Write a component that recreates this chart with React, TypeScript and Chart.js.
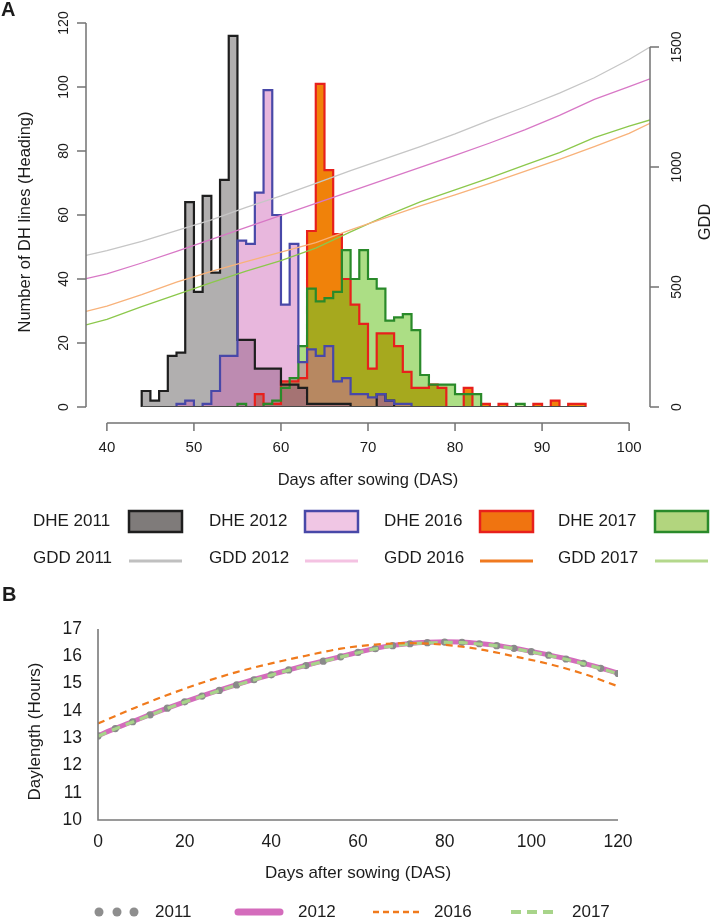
import React, { useEffect, useRef } from "react";
import { Chart, registerables } from "chart.js";

Chart.register(...registerables);

const FONT = '"Liberation Sans", Arial, Helvetica, sans-serif';

// ---------------- Panel A data ----------------
const A_X_TICKS = [40, 50, 60, 70, 80, 90, 100];
const A_Y_TICKS = [0, 20, 40, 60, 80, 100, 120];
const A_GDD_TICKS = [0, 500, 1000, 1500];
const A_X_MIN = 37.6;
const A_X_MAX = 102.4;
const A_Y_MAX = 120;
const A_GDD_MAX = 1600;

// heading-date histograms: first day of first bin + counts per 1-day bin
const DHE_2011_START = 44;
const DHE_2011 = [5, 2, 5, 16, 17, 64, 36, 66, 42, 71, 116, 21, 21, 12, 12, 12, 7, 7, 6, 1, 1, 1, 1, 1, 0, 0, 0, 4, 2];
const DHE_2012_START = 48;
const DHE_2012 = [1, 2, 0, 1, 5, 16, 16, 52, 51, 67, 99, 60, 32, 51, 14, 18, 16, 19, 8, 9, 4, 4, 3, 4, 2, 1, 1];
const DHE_2016_START = 57;
const DHE_2016 = [4, 1, 1, 8, 8, 9, 55, 101, 74, 54, 40, 32, 26, 12, 23, 23, 19, 11, 6, 6, 7, 6, 0, 0, 6, 0, 1, 0, 1, 0, 0, 0, 1, 0, 2, 0, 1, 1];
const DHE_2017_START = 55;
const DHE_2017 = [1, 0, 0, 1, 2, 6, 9, 19, 37, 33, 34, 36, 49, 40, 49, 40, 37, 27, 28, 29, 24, 10, 7, 7, 7, 4, 4, 4, 0, 0, 0, 0, 1];

// cumulative growing degree days
const GDD_DAYS = [37.6, 40, 44, 48, 52, 56, 60, 64, 68, 72, 76, 80, 84, 88, 92, 96, 100, 102.4];
const GDD_2011 = [632, 652, 690, 735, 780, 832, 880, 932, 985, 1035, 1085, 1138, 1195, 1250, 1308, 1372, 1448, 1500];
const GDD_2012 = [535, 555, 600, 648, 698, 748, 798, 848, 898, 948, 998, 1048, 1100, 1155, 1215, 1282, 1335, 1367];
const GDD_2016 = [398, 420, 468, 520, 565, 606, 645, 685, 738, 788, 838, 884, 932, 982, 1032, 1085, 1140, 1182];
const GDD_2017 = [342, 365, 418, 468, 518, 566, 610, 662, 730, 795, 855, 905, 955, 1008, 1060, 1122, 1170, 1196];

const DHE_LEGEND = ["DHE 2011", "DHE 2012", "DHE 2016", "DHE 2017"];
const GDD_LEGEND = ["GDD 2011", "GDD 2012", "GDD 2016", "GDD 2017"];

// ---------------- Panel B data ----------------
const B_X_TICKS = [0, 20, 40, 60, 80, 100, 120];
const B_Y_TICKS = [10, 11, 12, 13, 14, 15, 16, 17];
const B_DAYS = [0, 4, 8, 12, 16, 20, 24, 28, 32, 36, 40, 44, 48, 52, 56, 60, 64, 68, 72, 76, 80, 84, 88, 92, 96, 100, 104, 108, 112, 116, 120];
const DAYLEN_2011 = [13.08, 13.35, 13.6, 13.85, 14.1, 14.33, 14.54, 14.75, 14.95, 15.14, 15.32, 15.5, 15.66, 15.82, 15.98, 16.14, 16.28, 16.39, 16.46, 16.5, 16.52, 16.51, 16.46, 16.39, 16.29, 16.17, 16.04, 15.9, 15.74, 15.56, 15.37];
const DAYLEN_2012 = [13.09, 13.36, 13.61, 13.86, 14.1, 14.33, 14.55, 14.76, 14.96, 15.15, 15.33, 15.5, 15.67, 15.83, 15.99, 16.15, 16.29, 16.4, 16.47, 16.51, 16.53, 16.52, 16.47, 16.4, 16.3, 16.18, 16.05, 15.91, 15.75, 15.57, 15.38];
const DAYLEN_2017 = [13.07, 13.34, 13.59, 13.84, 14.09, 14.32, 14.53, 14.74, 14.94, 15.13, 15.31, 15.49, 15.65, 15.81, 15.97, 16.13, 16.27, 16.38, 16.45, 16.49, 16.51, 16.5, 16.45, 16.38, 16.28, 16.16, 16.03, 15.89, 15.73, 15.55, 15.36];
const B_DAYS_2016 = [0, 8, 16, 24, 32, 40, 48, 56, 64, 72, 80, 88, 96, 104, 112, 120];
const DAYLEN_2016 = [13.54, 14.08, 14.58, 15.03, 15.42, 15.74, 16.02, 16.28, 16.43, 16.48, 16.42, 16.26, 16.0, 15.72, 15.36, 14.9];
const B_LEGEND = ["2011", "2012", "2016", "2017"];

// ---------------- helpers ----------------
function histPoints(start: number, counts: number[]) {
  const pts = [{ x: start, y: 0 }];
  counts.forEach((v, i) => pts.push({ x: start + i, y: v }));
  pts.push({ x: start + counts.length, y: 0 });
  return pts;
}

function rotText(ctx: any, text: string, x: number, y: number) {
  ctx.save();
  ctx.translate(x, y);
  ctx.rotate(-Math.PI / 2);
  ctx.textAlign = "center";
  ctx.textBaseline = "middle";
  ctx.fillText(text, 0, 0);
  ctx.restore();
}

const TEXT = "#1c1c1c";
const AXIS = "#737373";

const axisPluginA = {
  id: "axisA",
  afterDraw(chart: any) {
    const { ctx, chartArea: ca, scales } = chart;
    const sx = scales.x, sy = scales.y, sy2 = scales.y2;
    ctx.save();
    ctx.strokeStyle = AXIS;
    ctx.lineWidth = 1.5;
    ctx.fillStyle = TEXT;

    // panel letter
    ctx.font = `bold 20px ${FONT}`;
    ctx.textAlign = "left";
    ctx.textBaseline = "middle";
    ctx.fillText("A", 1, 10);

    // x axis (offset below)
    const ax = ca.bottom + 16;
    const x0 = sx.getPixelForValue(A_X_TICKS[0]);
    const x1 = sx.getPixelForValue(A_X_TICKS[A_X_TICKS.length - 1]);
    ctx.beginPath();
    ctx.moveTo(x0, ax);
    ctx.lineTo(x1, ax);
    A_X_TICKS.forEach((t) => {
      const px = sx.getPixelForValue(t);
      ctx.moveTo(px, ax);
      ctx.lineTo(px, ax + 8);
    });
    ctx.stroke();
    ctx.font = `15px ${FONT}`;
    ctx.textAlign = "center";
    ctx.textBaseline = "middle";
    A_X_TICKS.forEach((t) => ctx.fillText(String(t), sx.getPixelForValue(t), ax + 25));
    ctx.font = `16.5px ${FONT}`;
    ctx.fillText("Days after sowing (DAS)", (x0 + x1) / 2, ax + 57);

    // left axis
    const lx = ca.left;
    const yb = sy.getPixelForValue(A_Y_TICKS[0]);
    const yt = sy.getPixelForValue(A_Y_TICKS[A_Y_TICKS.length - 1]);
    ctx.beginPath();
    ctx.moveTo(lx, yb);
    ctx.lineTo(lx, yt);
    A_Y_TICKS.forEach((t) => {
      const py = sy.getPixelForValue(t);
      ctx.moveTo(lx, py);
      ctx.lineTo(lx - 9, py);
    });
    ctx.stroke();
    ctx.font = `14px ${FONT}`;
    A_Y_TICKS.forEach((t) => rotText(ctx, String(t), lx - 22, sy.getPixelForValue(t)));
    ctx.font = `16.5px ${FONT}`;
    rotText(ctx, "Number of DH lines (Heading)", 25, (yb + yt) / 2 + 7);

    // right axis
    const rx = ca.right;
    const gb = sy2.getPixelForValue(A_GDD_TICKS[0]);
    const gt = sy2.getPixelForValue(A_GDD_TICKS[A_GDD_TICKS.length - 1]);
    ctx.beginPath();
    ctx.moveTo(rx, gb);
    ctx.lineTo(rx, gt);
    A_GDD_TICKS.forEach((t) => {
      const py = sy2.getPixelForValue(t);
      ctx.moveTo(rx, py);
      ctx.lineTo(rx + 9, py);
    });
    ctx.stroke();
    ctx.font = `14px ${FONT}`;
    A_GDD_TICKS.forEach((t) => rotText(ctx, String(t), rx + 27, sy2.getPixelForValue(t)));
    ctx.font = `16.5px ${FONT}`;
    rotText(ctx, "GDD", rx + 55, (yb + yt) / 2 + 7);

    // legend
    const textX = [33, 209, 384, 558];
    const boxX = [129, 305, 480, 655];
    const boxW = 53;
    const row1 = 521, row2 = 558;
    const boxFill = ["#7f7b7a", "#f0c6e4", "#f07410", "#b2d57e"];
    const boxEdge = ["#1e1e1e", "#4848a8", "#e8201c", "#2a8a2a"];
    const lineCol = ["#c0c0c0", "#f4c2e2", "#f07a20", "#b4d88c"];
    ctx.font = `17px ${FONT}`;
    ctx.textAlign = "left";
    ctx.textBaseline = "middle";
    for (let i = 0; i < 4; i++) {
      ctx.fillStyle = TEXT;
      ctx.fillText(DHE_LEGEND[i], textX[i], row1);
      ctx.fillText(GDD_LEGEND[i], textX[i], row2);
      ctx.fillStyle = boxFill[i];
      ctx.fillRect(boxX[i], row1 - 10, boxW, 21);
      ctx.strokeStyle = boxEdge[i];
      ctx.lineWidth = 2.5;
      ctx.strokeRect(boxX[i], row1 - 10, boxW, 21);
      ctx.strokeStyle = lineCol[i];
      ctx.lineWidth = 3;
      ctx.beginPath();
      ctx.moveTo(boxX[i], row2 + 3);
      ctx.lineTo(boxX[i] + boxW, row2 + 3);
      ctx.stroke();
    }
    ctx.restore();
  },
};

const axisPluginB = {
  id: "axisB",
  afterDraw(chart: any) {
    const { ctx, chartArea: ca, scales } = chart;
    const sx = scales.x, sy = scales.y;
    ctx.save();
    ctx.fillStyle = TEXT;
    ctx.font = `bold 20px ${FONT}`;
    ctx.textAlign = "left";
    ctx.textBaseline = "middle";
    ctx.fillText("B", 2, 10);

    ctx.strokeStyle = "#7a7a7a";
    ctx.lineWidth = 1.6;
    ctx.beginPath();
    ctx.moveTo(ca.left, sy.getPixelForValue(B_Y_TICKS[B_Y_TICKS.length - 1]));
    ctx.lineTo(ca.left, ca.bottom);
    ctx.lineTo(sx.getPixelForValue(B_X_TICKS[B_X_TICKS.length - 1]), ca.bottom);
    ctx.stroke();

    ctx.font = `17.5px ${FONT}`;
    ctx.textAlign = "right";
    B_Y_TICKS.forEach((t) => ctx.fillText(String(t), ca.left - 16, sy.getPixelForValue(t)));
    ctx.textAlign = "center";
    B_X_TICKS.forEach((t) => ctx.fillText(String(t), sx.getPixelForValue(t), ca.bottom + 22));
    ctx.font = `17px ${FONT}`;
    ctx.fillText("Days after sowing (DAS)", (ca.left + ca.right) / 2, ca.bottom + 53);
    rotText(ctx, "Daylength (Hours)", 35, (ca.top + ca.bottom) / 2 + 7);

    // legend
    const ly = ca.bottom + 92;
    ctx.textAlign = "left";
    ctx.fillStyle = "#8e8e8e";
    [99, 117, 134].forEach((cx) => {
      ctx.beginPath();
      ctx.arc(cx, ly, 4.5, 0, Math.PI * 2);
      ctx.fill();
    });
    ctx.lineCap = "round";
    ctx.strokeStyle = "#d46cbc";
    ctx.lineWidth = 7;
    ctx.beginPath();
    ctx.moveTo(238, ly);
    ctx.lineTo(280, ly);
    ctx.stroke();
    ctx.lineCap = "butt";
    ctx.strokeStyle = "#f07a1c";
    ctx.lineWidth = 2.5;
    ctx.setLineDash([6, 4]);
    ctx.beginPath();
    ctx.moveTo(373, ly);
    ctx.lineTo(419, ly);
    ctx.stroke();
    ctx.strokeStyle = "#a8d48a";
    ctx.lineWidth = 4;
    ctx.setLineDash([10, 6]);
    ctx.beginPath();
    ctx.moveTo(511, ly);
    ctx.lineTo(558, ly);
    ctx.stroke();
    ctx.setLineDash([]);
    ctx.fillStyle = TEXT;
    ctx.font = `17px ${FONT}`;
    const tx = [155, 298, 434, 572];
    B_LEGEND.forEach((t, i) => ctx.fillText(t, tx[i], ly));
    ctx.restore();
  },
};

function histDataset(label: string, start: number, counts: number[], border: string, fill: string, order: number) {
  return {
    label,
    data: histPoints(start, counts),
    stepped: "before",
    borderColor: border,
    backgroundColor: fill,
    borderWidth: 2.2,
    fill: "origin",
    pointRadius: 0,
    order,
    yAxisID: "y",
    borderJoinStyle: "miter",
  };
}

function gddDataset(label: string, values: number[], color: string) {
  return {
    label,
    data: GDD_DAYS.map((d, i) => ({ x: d, y: values[i] })),
    borderColor: color,
    borderWidth: 1.3,
    fill: false,
    pointRadius: 0,
    tension: 0,
    order: 0,
    yAxisID: "y2",
  };
}

export default function App() {
  const refA = useRef<HTMLCanvasElement | null>(null);
  const refB = useRef<HTMLCanvasElement | null>(null);

  useEffect(() => {
    const starts = [DHE_2011_START, DHE_2012_START, DHE_2016_START, DHE_2017_START];
    const ends = [
      DHE_2011_START + DHE_2011.length,
      DHE_2012_START + DHE_2012.length,
      DHE_2016_START + DHE_2016.length,
      DHE_2017_START + DHE_2017.length,
    ];
    const chartA = new Chart(refA.current as HTMLCanvasElement, {
      type: "line",
      data: {
        datasets: [
          histDataset("DHE 2016", DHE_2016_START, DHE_2016, "#e8201c", "rgba(240,130,10,1)", 5),
          histDataset("DHE 2017", DHE_2017_START, DHE_2017, "#2a8a2a", "rgba(112,198,44,0.58)", 4),
          histDataset("DHE 2011", DHE_2011_START, DHE_2011, "#1e1e1e", "rgba(100,96,96,0.5)", 3),
          histDataset("DHE 2012", DHE_2012_START, DHE_2012, "#4848a8", "rgba(205,96,180,0.45)", 2),
          {
            label: "baseline",
            data: [
              { x: Math.min(...starts), y: 0 },
              { x: Math.max(...ends), y: 0 },
            ],
            borderColor: "#4a4a4a",
            borderWidth: 2,
            fill: false,
            pointRadius: 0,
            order: 1,
            yAxisID: "y",
          },
          gddDataset("GDD 2011", GDD_2011, "#c6c6c6"),
          gddDataset("GDD 2012", GDD_2012, "#d878c6"),
          gddDataset("GDD 2016", GDD_2016, "#f8b27a"),
          gddDataset("GDD 2017", GDD_2017, "#8cc84c"),
        ] as any,
      },
      options: {
        responsive: false,
        animation: false,
        devicePixelRatio: 1,
        events: [],
        layout: { padding: { left: 86, right: 63, top: 23, bottom: 178 } },
        plugins: {
          legend: { display: false },
          tooltip: { enabled: false },
          filler: { drawTime: "beforeDatasetsDraw" },
        } as any,
        scales: {
          x: { type: "linear", min: A_X_MIN, max: A_X_MAX, display: false },
          y: { type: "linear", min: 0, max: A_Y_MAX, display: false },
          y2: { type: "linear", min: 0, max: A_GDD_MAX, display: false, position: "right" },
        },
      },
      plugins: [axisPluginA],
    });

    const chartB = new Chart(refB.current as HTMLCanvasElement, {
      type: "line",
      data: {
        datasets: [
          {
            label: "2012",
            data: B_DAYS.map((d, i) => ({ x: d, y: DAYLEN_2012[i] })),
            borderColor: "#d46cbc",
            borderWidth: 5,
            pointRadius: 0,
            tension: 0.4,
            cubicInterpolationMode: "monotone",
            fill: false,
            order: 3,
          },
          {
            label: "2011",
            data: B_DAYS.map((d, i) => ({ x: d, y: DAYLEN_2011[i] })),
            showLine: false,
            pointRadius: 3.6,
            pointBackgroundColor: "#8a8a8a",
            pointBorderColor: "#8a8a8a",
            pointBorderWidth: 0,
            fill: false,
            order: 2,
          },
          {
            label: "2017",
            data: B_DAYS.map((d, i) => ({ x: d, y: DAYLEN_2017[i] })),
            borderColor: "#a8d48a",
            borderWidth: 3.2,
            borderDash: [9, 6],
            pointRadius: 0,
            tension: 0.4,
            cubicInterpolationMode: "monotone",
            fill: false,
            order: 1,
          },
          {
            label: "2016",
            data: B_DAYS_2016.map((d, i) => ({ x: d, y: DAYLEN_2016[i] })),
            borderColor: "#f07a1c",
            borderWidth: 2.2,
            borderDash: [7, 5],
            pointRadius: 0,
            tension: 0.4,
            cubicInterpolationMode: "monotone",
            fill: false,
            order: 0,
          },
        ] as any,
      },
      options: {
        responsive: false,
        animation: false,
        devicePixelRatio: 1,
        events: [],
        layout: { padding: { left: 98, right: 95, top: 44, bottom: 102 } },
        plugins: { legend: { display: false }, tooltip: { enabled: false } },
        scales: {
          x: { type: "linear", min: 0, max: 120, display: false },
          y: { type: "linear", min: 10, max: 17, display: false },
        },
      },
      plugins: [axisPluginB],
    });

    return () => {
      chartA.destroy();
      chartB.destroy();
    };
  }, []);

  return (
    <div style={{ position: "absolute", left: 0, top: 0, width: 713, height: 922, background: "#ffffff" }}>
      <canvas ref={refA} width={713} height={585} style={{ position: "absolute", left: 0, top: 0 }} />
      <canvas ref={refB} width={713} height={337} style={{ position: "absolute", left: 0, top: 585 }} />
    </div>
  );
}
